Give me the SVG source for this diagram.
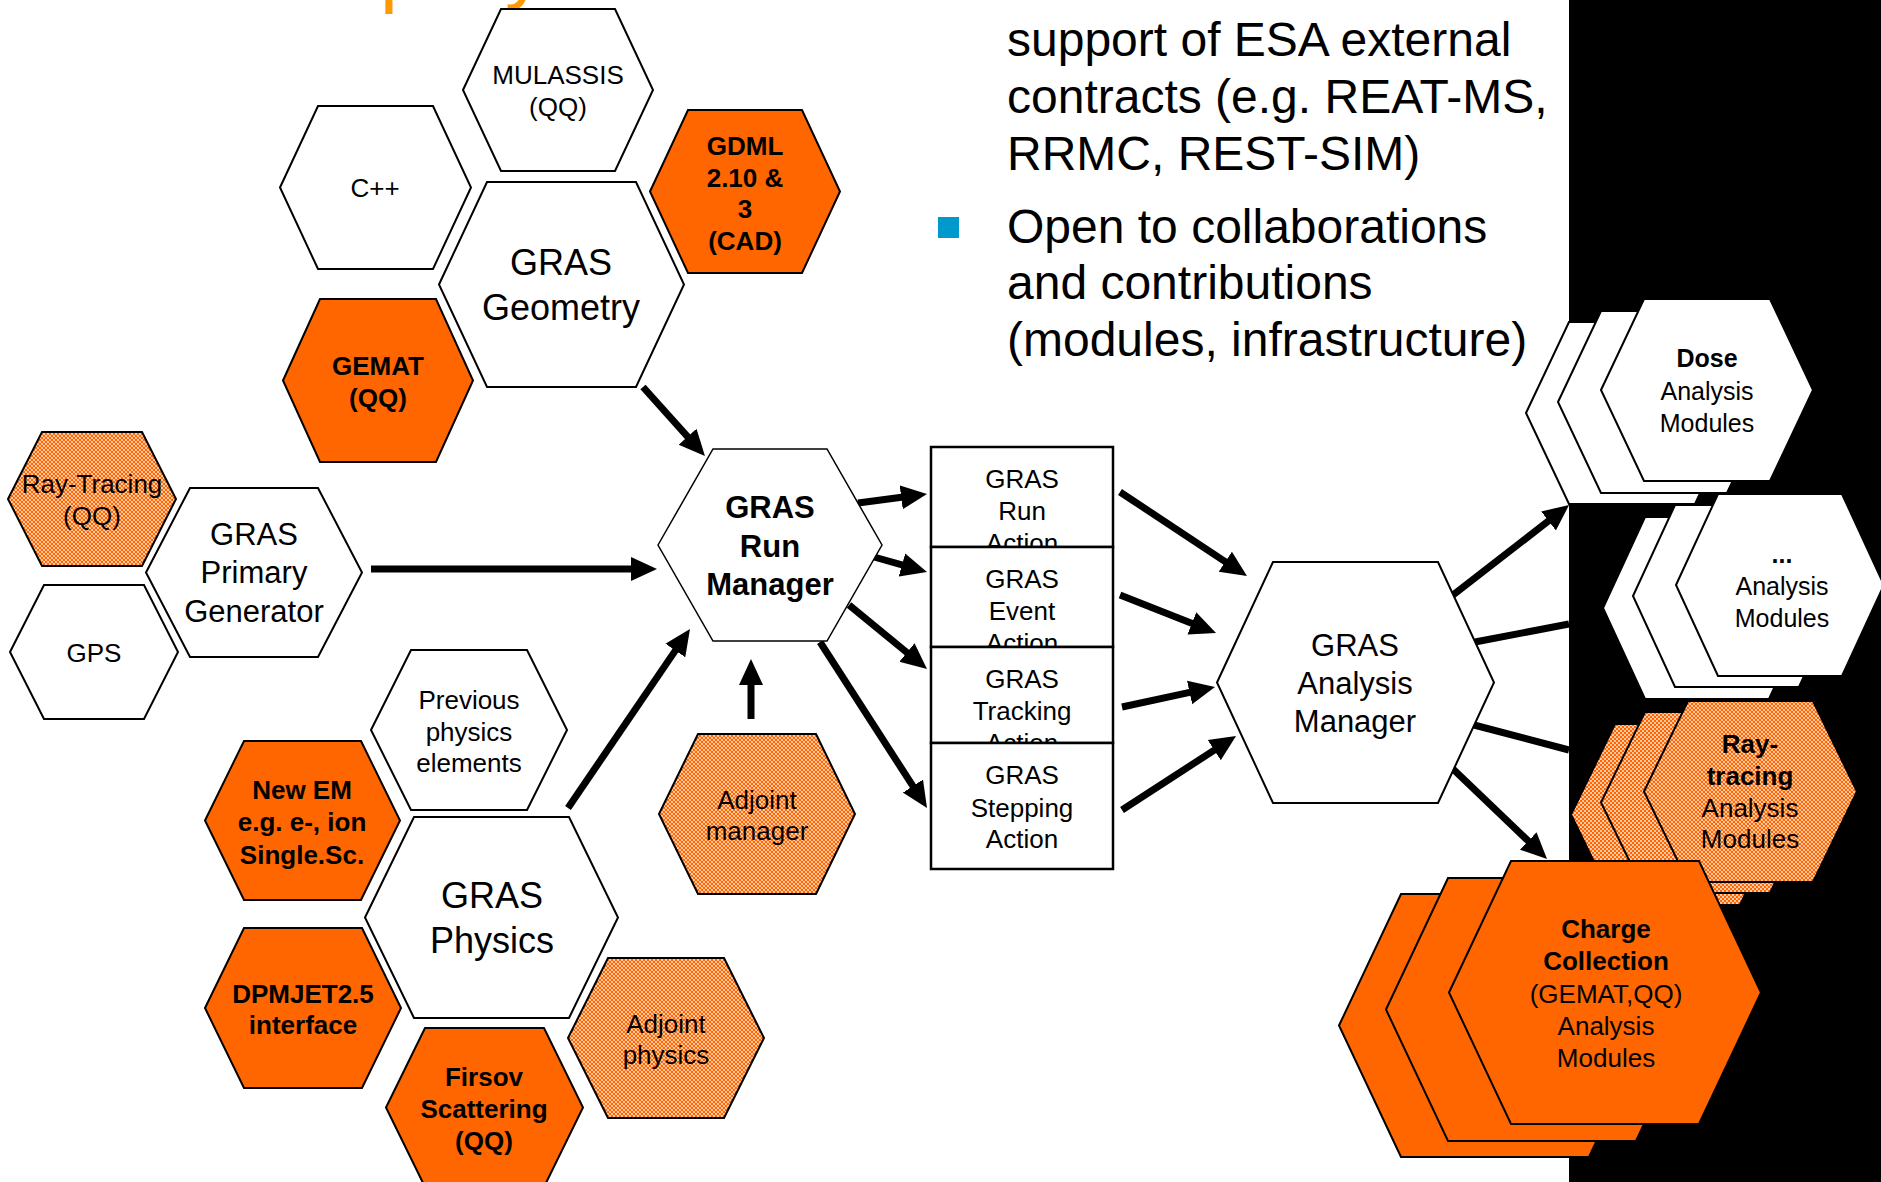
<svg xmlns="http://www.w3.org/2000/svg" xmlns:xlink="http://www.w3.org/1999/xlink" width="1881" height="1182" viewBox="0 0 1881 1182">
  <style>
    .hx { stroke: #000; stroke-width: 2; }
    .w { fill: #fff; }
    .o { fill: #ff6600; }
    .m { fill: url(#mesh); }
    .box { fill: #fff; stroke: #000; stroke-width: 2.5; }
    text { font-family: "Liberation Sans", Arial, sans-serif; fill: #000; text-anchor: middle; }
    .s26 { font-size: 26px; }
    .s25 { font-size: 25px; }
    .s31 { font-size: 31px; }
    .s36 { font-size: 36px; }
    .b { font-weight: bold; }
    .bul { font-size: 48px; text-anchor: start; }
    .ttl { font-size: 80px; fill: #ff9900; text-anchor: start; }
    .con { stroke: #000; stroke-width: 7; fill: none; }
    .arr { marker-end: url(#head); }
  </style>
  <defs>
    <pattern id="mesh" width="4" height="4" patternUnits="userSpaceOnUse">
      <rect width="4" height="4" fill="#ff6600"/>
      <path d="M0 2L2 0L4 2L2 4Z" fill="none" stroke="#fff" stroke-width="0.8" opacity="0.8"/>
    </pattern>
    <marker id="head" markerUnits="userSpaceOnUse" markerWidth="26" markerHeight="26" viewBox="0 0 26 26" refX="12" refY="13" orient="auto">
      <path d="M0 1L26 13L0 25Z" fill="#000"/>
    </marker>
    <polygon id="hexDose" points="1601,390 1644,299 1770,299 1813,390 1770,481 1644,481"/>
    <polygon id="hexDots" points="1676,585 1718,494 1842,494 1884,585 1842,676 1718,676"/>
    <polygon id="hexRay" points="1644,791.5 1688,701 1813,701 1857,791.5 1813,882 1688,882"/>
    <polygon id="hexCharge" points="1449,992.5 1511,861 1699,861 1761,992.5 1699,1124 1511,1124"/>
  </defs>

  <rect width="1881" height="1182" fill="#fff"/>

  <!-- title fragments at the top edge -->
  <text class="ttl" x="380" y="-3">p</text>
  <text class="ttl" x="505" y="-7">y</text>

  <!-- bullet text -->
  <g id="bullets">
    <text class="bul" x="1007" y="56">support of ESA external</text>
    <text class="bul" x="1007" y="113">contracts (e.g. REAT-MS,</text>
    <text class="bul" x="1007" y="170">RRMC, REST-SIM)</text>
    <rect x="938" y="217" width="21" height="21" fill="#0099cc"/>
    <text class="bul" x="1007" y="243">Open to collaborations</text>
    <text class="bul" x="1007" y="299">and contributions</text>
    <text class="bul" x="1007" y="356">(modules, infrastructure)</text>
  </g>

  <!-- dark panel on the right -->
  <rect x="1569" y="0" width="312" height="1182" fill="#000"/>

  <!-- connectors -->
  <g id="connectors">
    <path class="con arr" d="M643 387L695.6 445.6"/>
    <path class="con arr" d="M371 569L643 569"/>
    <path class="con arr" d="M568 808L682.1 640.6"/>
    <path class="con arr" d="M751 719L751 673"/>
    <path class="con arr" d="M858 503L913.1 495.8"/>
    <path class="con arr" d="M874 557L913.5 568.2"/>
    <path class="con arr" d="M849 605L916.2 660.1"/>
    <path class="con arr" d="M820 642L919.4 796.2"/>
    <path class="con arr" d="M1120 492L1235.3 568.3"/>
    <path class="con arr" d="M1120 595L1203 627.8"/>
    <path class="con arr" d="M1122 707L1201.3 689.9"/>
    <path class="con arr" d="M1122 810L1224.3 743.6"/>
    <path class="con arr" d="M1453 595L1558 513.6"/>
    <path class="con" d="M1475 642L1569 624"/>
    <path class="con" d="M1474 725L1569 750"/>
    <path class="con arr" d="M1453 769L1536.9 849.3"/>
  </g>

  <!-- geometry cluster -->
  <g id="mulassis">
    <polygon class="hx w" points="463,90 501,9 615,9 653,90 615,171 501,171"/>
    <text class="s26" x="558" y="84">MULASSIS</text>
    <text class="s26" x="558" y="116">(QQ)</text>
  </g>
  <g id="cpp">
    <polygon class="hx w" points="280,187.5 318,106 433,106 471,187.5 433,269 318,269"/>
    <text class="s26" x="375" y="197">C++</text>
  </g>
  <g id="gdml">
    <polygon class="hx o" points="650,191.5 688,110 802,110 840,191.5 802,273 688,273"/>
    <text class="s26 b" x="745" y="155">GDML</text>
    <text class="s26 b" x="745" y="187">2.10 &amp;</text>
    <text class="s26 b" x="745" y="218">3</text>
    <text class="s26 b" x="745" y="250">(CAD)</text>
  </g>
  <g id="geometry">
    <polygon class="hx w" points="439,284.5 487,182 636,182 684,284.5 636,387 487,387"/>
    <text class="s36" x="561" y="275">GRAS</text>
    <text class="s36" x="561" y="320">Geometry</text>
  </g>
  <g id="gemat">
    <polygon class="hx o" points="283,380.5 320,299 436,299 473,380.5 436,462 320,462"/>
    <text class="s26 b" x="378" y="375">GEMAT</text>
    <text class="s26 b" x="378" y="407">(QQ)</text>
  </g>

  <!-- primary generator cluster -->
  <g id="raytracing-qq">
    <polygon class="hx m" points="8,499 42,432 142,432 176,499 142,566 42,566"/>
    <text class="s26" x="92" y="493">Ray-Tracing</text>
    <text class="s26" x="92" y="525">(QQ)</text>
  </g>
  <g id="gps">
    <polygon class="hx w" points="10,652 44,585 144,585 178,652 144,719 44,719"/>
    <text class="s26" x="94" y="662">GPS</text>
  </g>
  <g id="primary-generator">
    <polygon class="hx w" points="146,572.5 190,488 318,488 362,572.5 318,657 190,657"/>
    <text class="s31" x="254" y="545">GRAS</text>
    <text class="s31" x="254" y="583">Primary</text>
    <text class="s31" x="254" y="622">Generator</text>
  </g>

  <!-- run manager -->
  <g id="run-manager">
    <polygon class="w" stroke="#000" stroke-width="1.5" points="658,545 713,449 827,449 882,545 827,641 713,641"/>
    <text class="s31 b" x="770" y="518">GRAS</text>
    <text class="s31 b" x="770" y="557">Run</text>
    <text class="s31 b" x="770" y="595">Manager</text>
  </g>
  <g id="adjoint-manager">
    <polygon class="hx m" points="659,814 698,734 816,734 855,814 816,894 698,894"/>
    <text class="s26" x="757" y="809">Adjoint</text>
    <text class="s26" x="757" y="840">manager</text>
  </g>

  <!-- user actions -->
  <g id="run-action">
    <rect class="box" x="931" y="447" width="182" height="100"/>
    <text class="s26" x="1022" y="488">GRAS</text>
    <text class="s26" x="1022" y="520">Run</text>
    <text class="s26" x="1022" y="552">Action</text>
  </g>
  <g id="event-action">
    <rect class="box" x="931" y="547" width="182" height="100"/>
    <text class="s26" x="1022" y="588">GRAS</text>
    <text class="s26" x="1022" y="620">Event</text>
    <text class="s26" x="1022" y="652">Action</text>
  </g>
  <g id="tracking-action">
    <rect class="box" x="931" y="647" width="182" height="96"/>
    <text class="s26" x="1022" y="688">GRAS</text>
    <text class="s26" x="1022" y="720">Tracking</text>
    <text class="s26" x="1022" y="752">Action</text>
  </g>
  <g id="stepping-action">
    <rect class="box" x="931" y="743" width="182" height="126"/>
    <text class="s26" x="1022" y="784">GRAS</text>
    <text class="s26" x="1022" y="817">Stepping</text>
    <text class="s26" x="1022" y="848">Action</text>
  </g>

  <!-- physics cluster -->
  <g id="previous-physics">
    <polygon class="hx w" points="371,730 411,650 527,650 567,730 527,810 411,810"/>
    <text class="s26" x="469" y="709">Previous</text>
    <text class="s26" x="469" y="741">physics</text>
    <text class="s26" x="469" y="772">elements</text>
  </g>
  <g id="new-em">
    <polygon class="hx o" points="205,820.5 244,741 361,741 400,820.5 361,900 244,900"/>
    <text class="s26 b" x="302" y="799">New EM</text>
    <text class="s26 b" x="302" y="831">e.g. e-, ion</text>
    <text class="s26 b" x="302" y="864">Single.Sc.</text>
  </g>
  <g id="physics">
    <polygon class="hx w" points="365,917.5 414,817 569,817 618,917.5 569,1018 414,1018"/>
    <text class="s36" x="492" y="908">GRAS</text>
    <text class="s36" x="492" y="953">Physics</text>
  </g>
  <g id="dpmjet">
    <polygon class="hx o" points="205,1008 244,928 362,928 401,1008 362,1088 244,1088"/>
    <text class="s26 b" x="303" y="1003">DPMJET2.5</text>
    <text class="s26 b" x="303" y="1034">interface</text>
  </g>
  <g id="firsov">
    <polygon class="hx o" points="386,1107.5 425,1028 544,1028 583,1107.5 544,1187 425,1187"/>
    <text class="s26 b" x="484" y="1086">Firsov</text>
    <text class="s26 b" x="484" y="1118">Scattering</text>
    <text class="s26 b" x="484" y="1150">(QQ)</text>
  </g>
  <g id="adjoint-physics">
    <polygon class="hx m" points="568,1038 608,958 724,958 764,1038 724,1118 608,1118"/>
    <text class="s26" x="666" y="1033">Adjoint</text>
    <text class="s26" x="666" y="1064">physics</text>
  </g>

  <!-- analysis manager -->
  <g id="analysis-manager">
    <polygon class="hx w" points="1217,682.5 1273,562 1438,562 1494,682.5 1438,803 1273,803"/>
    <text class="s31" x="1355" y="656">GRAS</text>
    <text class="s31" x="1355" y="694">Analysis</text>
    <text class="s31" x="1355" y="732">Manager</text>
  </g>

  <!-- analysis module stacks -->
  <g id="dose-modules">
    <use href="#hexDose" class="hx w" transform="translate(-75,23)"/>
    <use href="#hexDose" class="hx w" transform="translate(-43,12)"/>
    <use href="#hexDose" class="hx w"/>
    <text class="s25 b" x="1707" y="367">Dose</text>
    <text class="s25" x="1707" y="400">Analysis</text>
    <text class="s25" x="1707" y="432">Modules</text>
  </g>
  <g id="other-modules">
    <use href="#hexDots" class="hx w" transform="translate(-73,23)"/>
    <use href="#hexDots" class="hx w" transform="translate(-43,11)"/>
    <use href="#hexDots" class="hx w"/>
    <text class="s25 b" x="1782" y="563">...</text>
    <text class="s25" x="1782" y="595">Analysis</text>
    <text class="s25" x="1782" y="627">Modules</text>
  </g>
  <g id="raytracing-modules">
    <use href="#hexRay" class="hx m" transform="translate(-73,23)"/>
    <use href="#hexRay" class="hx m" transform="translate(-43,11)"/>
    <use href="#hexRay" class="hx m"/>
    <text class="s26 b" x="1750" y="753">Ray-</text>
    <text class="s26 b" x="1750" y="785">tracing</text>
    <text class="s26" x="1750" y="817">Analysis</text>
    <text class="s26" x="1750" y="848">Modules</text>
  </g>
  <g id="charge-modules">
    <use href="#hexCharge" class="hx o" transform="translate(-110,33)"/>
    <use href="#hexCharge" class="hx o" transform="translate(-63,17)"/>
    <use href="#hexCharge" class="hx o"/>
    <text class="s26 b" x="1606" y="938">Charge</text>
    <text class="s26 b" x="1606" y="970">Collection</text>
    <text class="s26" x="1606" y="1003">(GEMAT,QQ)</text>
    <text class="s26" x="1606" y="1035">Analysis</text>
    <text class="s26" x="1606" y="1067">Modules</text>
  </g>
</svg>
